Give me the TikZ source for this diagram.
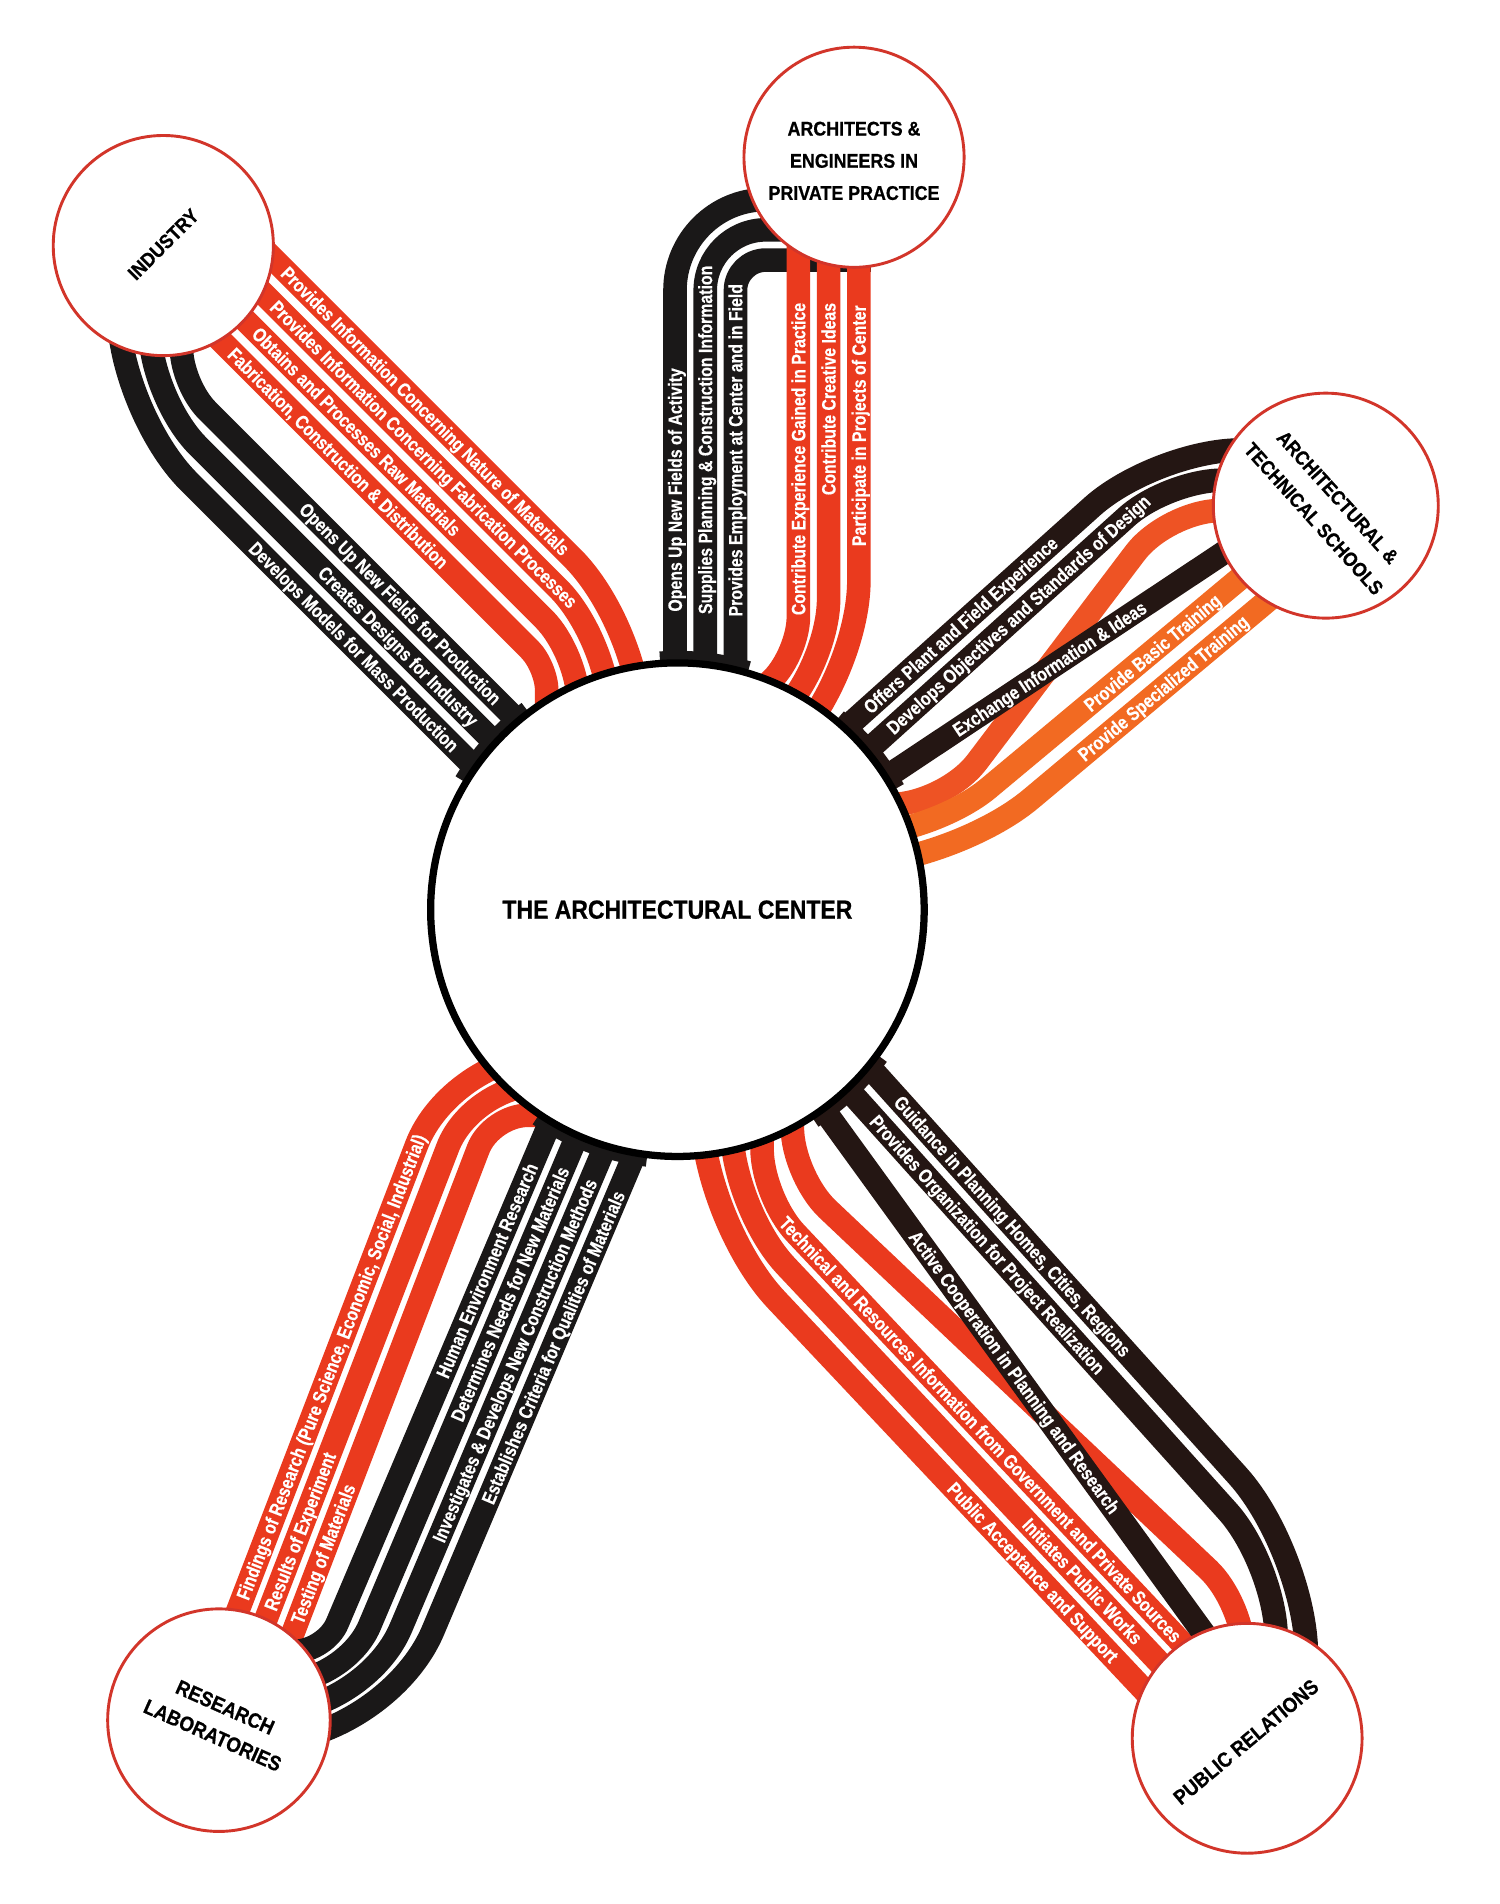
\documentclass[tikz,border=0pt]{standalone}
\usepackage{fontspec}
\newfontfamily\bandfont{Liberation Sans}[FakeStretch=0.82, FakeBold=0.4]
\newfontfamily\headfont{Liberation Sans}[FakeStretch=0.9, FakeBold=0.7]
\newfontfamily\titlefont{Liberation Sans}[FakeStretch=0.88, FakeBold=0.7]
\definecolor{rred}{HTML}{EA3A1E}
\definecolor{rblack}{HTML}{1A1818}
\definecolor{rbrown}{HTML}{241613}
\definecolor{rorange}{HTML}{F26A22}
\definecolor{rorangeA}{HTML}{EE5324}
\definecolor{rline}{HTML}{D2352A}
\tikzset{
  stripe/.style={line width=9.75pt},
  redS/.style={stripe, draw=rred},
  blkS/.style={stripe, draw=rblack},
  brnS/.style={stripe, draw=rbrown},
  orgS/.style={stripe, draw=rorange},
  orgA/.style={stripe, draw=rorangeA},
  mergeS/.style={line width=5pt, draw=rblack},
  lbl/.style={font=\bandfont\bfseries\fontsize{8}{9}\selectfont, text=white, inner sep=0pt, text height=5.7pt, text depth=0pt},
  smallcirc/.style={circle, draw=rline, line width=1.2pt, fill=white, inner sep=0pt},
  headtxt/.style={font=\headfont\bfseries\fontsize{8.2}{13.3}\selectfont, text=black, align=center, inner sep=0pt},
}
\begin{document}
\begin{tikzpicture}[x=0.5pt, y=-0.5pt]
\useasboundingbox (0,0) rectangle (1240,1574);
\fill[white] (0,0) rectangle (1240,1574);
\coordinate (C) at (560,752);

% ---------------- Industry bundle
\draw[redS, rounded corners=40pt] (150,138) -- (530,518) -- (530,650);
\draw[redS, rounded corners=30pt] (150,175) -- (504,529) -- (504,650);
\draw[redS, rounded corners=20pt] (150,212) -- (478,540) -- (478,650);
\draw[redS, rounded corners=10pt] (150,249) -- (452,551) -- (452,650);
\draw[blkS, rounded corners=15pt] (150,220) -- (150,318) -- (480,648);
\draw[blkS, rounded corners=28pt] (124,220) -- (124,329) -- (470,675);
\draw[blkS, rounded corners=41pt] (98,220) -- (98,340) -- (460,702);

% ---------------- Architects bundle
\draw[blkS, rounded corners=37.5pt] (558,650) -- (558,165) -- (720,165);
\draw[blkS, rounded corners=25pt] (583,650) -- (583,190) -- (720,190);
\draw[blkS, rounded corners=12.5pt] (608,650) -- (608,215) -- (720,215);
\draw[redS, rounded corners=15pt] (660,150) -- (660,540) -- (560,640);
\draw[redS, rounded corners=27.5pt] (685,150) -- (685,550) -- (585,650);
\draw[redS, rounded corners=40pt] (710,150) -- (710,560) -- (610,660);

% ---------------- Schools bundle
\draw[orgA, rounded corners=22pt] (1060,422) -- (965,422) -- (781,665) -- (690,665);
\draw[brnS, rounded corners=35pt] (680,619) -- (955,372) -- (1060,372);
\draw[brnS, rounded corners=22.5pt] (690,645) -- (965,397) -- (1060,397);
\draw[brnS] (700,664) -- (1040,438);
\draw[orgS, rounded corners=30pt] (1060,449) -- (771,690) -- (690,690);
\draw[orgS, rounded corners=42.5pt] (1070,478) -- (787,715) -- (690,715);

% ---------------- Research bundle
\draw[redS, rounded corners=40pt] (178,1380) -- (373,872) -- (520,872);
\draw[redS, rounded corners=27.5pt] (200,1390) -- (390,897) -- (520,897);
\draw[redS, rounded corners=15pt] (223,1400) -- (406,922) -- (520,922);
\draw[blkS, rounded corners=12.5pt] (475,880) -- (269,1365) -- (180,1365);
\draw[blkS, rounded corners=25pt] (502,880) -- (286,1390) -- (180,1390);
\draw[blkS, rounded corners=37.5pt] (529,880) -- (302,1415) -- (180,1415);
\draw[blkS, rounded corners=50pt] (556,880) -- (319,1440) -- (180,1440);

% ---------------- Public relations bundle
\draw[redS, rounded corners=20pt] (655,900) -- (655,972) -- (1028,1325) -- (1028,1420);
\draw[redS, rounded corners=20pt] (630,900) -- (630,990) -- (991,1373);
\draw[redS, rounded corners=32.5pt] (605,900) -- (605,999) -- (973,1390);
\draw[redS, rounded corners=45pt] (580,900) -- (580,1009) -- (955,1407);
\draw[brnS, rounded corners=42.5pt] (698,859) -- (1080,1283) -- (1080,1420);
\draw[brnS, rounded corners=30pt] (679,876) -- (1055,1294) -- (1055,1420);
\draw[brnS] (659,887) -- (1029,1397);

% ---------------- black stripes merging at the centre
\draw[mergeS] (C) ++(-149:209) arc[start angle=-149, end angle=-127, radius=209];
\draw[mergeS] (C) ++(-94:209) arc[start angle=-94, end angle=-73.5, radius=209];
\draw[mergeS, draw=rbrown] (C) ++(-50:209) arc[start angle=-50, end angle=-29, radius=209];
\draw[mergeS, draw=rbrown] (C) ++(36:209) arc[start angle=36, end angle=57, radius=209];
\draw[mergeS] (C) ++(97:209) arc[start angle=97, end angle=124, radius=209];

% ---------------- labels: Industry
\node[lbl, anchor=west, rotate=-45] (ir1l) at (235,223) {Provides Information Concerning Nature of Materials};
\node[lbl, anchor=west, rotate=-45] (ir2l) at (226,251) {Provides Information Concerning Fabrication Processes};
\node[lbl, anchor=west, rotate=-45] (ir3l) at (211,273) {Obtains and Processes Raw Materials};
\node[lbl, anchor=west, rotate=-45] (ir4l) at (191,290) {Fabrication, Construction \& Distribution};
\node[lbl, anchor=east, rotate=-45] (ib1l) at (412,580) {Opens Up New Fields for Production};
\node[lbl, anchor=east, rotate=-45] (ib2l) at (393,598) {Creates Designs for Industry};
\node[lbl, anchor=east, rotate=-45] (ib3l) at (377,619) {Develops Models for Mass Production};

% ---------------- labels: Architects
\node[lbl, anchor=west, rotate=90] (ab1l) at (558,506) {Opens Up New Fields of Activity};
\node[lbl, anchor=west, rotate=90] (ab2l) at (583,508) {Supplies Planning \& Construction Information};
\node[lbl, anchor=west, rotate=90] (ab3l) at (608,510) {Provides Employment at Center and in Field};
\node[lbl, anchor=east, rotate=90] (ar1l) at (660,250) {Contribute Experience Gained in Practice};
\node[lbl, anchor=east, rotate=90] (ar2l) at (685,250) {Contribute Creative Ideas};
\node[lbl, anchor=east, rotate=90] (ar3l) at (710,252) {Participate in Projects of Center};

% ---------------- labels: Schools
\node[lbl, anchor=west, rotate=42] (sb1l) at (716,587) {Offers Plant and Field Experience};
\node[lbl, anchor=west, rotate=42] (sb2l) at (735,604) {Develops Objectives and Standards of Design};
\node[lbl, anchor=west, rotate=33.6] (sb3l) at (789,605) {Exchange Information \& Ideas};
\node[lbl, anchor=west, rotate=39.8] (so1l) at (898,585) {Provide Basic Training};
\node[lbl, anchor=west, rotate=39.9] (so2l) at (893,626) {Provide Specialized Training};

% ---------------- labels: Research
\node[lbl, anchor=west, rotate=69] (rr1l) at (200,1322) {Findings of Research (Pure Science, Economic, Social, Industrial)};
\node[lbl, anchor=west, rotate=69] (rr2l) at (223,1331) {Results of Experiment};
\node[lbl, anchor=west, rotate=69] (rr3l) at (245,1342) {Testing of Materials};
\node[lbl, anchor=east, rotate=67] (rb1l) at (440,962) {Human Environment Research};
\node[lbl, anchor=east, rotate=67] (rb2l) at (466,965) {Determines Needs for New Materials};
\node[lbl, anchor=east, rotate=67] (rb3l) at (489,975) {Investigates \& Develops New Construction Methods};
\node[lbl, anchor=east, rotate=67] (rb4l) at (512,985) {Establishes Criteria for Qualities of Materials};

% ---------------- labels: Public relations
\node[lbl, anchor=west, rotate=-48] (pp1l) at (742,908) {Guidance in Planning Homes, Cities, Regions};
\node[lbl, anchor=west, rotate=-48] (pp2l) at (722,924) {Provides Organization for Project Realization};
\node[lbl, anchor=west, rotate=-54] (pp3l) at (755,1019) {Active Cooperation in Planning and Research};
\node[lbl, anchor=west, rotate=-46.7] (pr3l) at (647,1008) {Technical and Resources Information from Government and Private Sources};
\node[lbl, anchor=east, rotate=-46.7] (pr2l) at (942,1357) {Initiates Public Works};
\node[lbl, anchor=east, rotate=-46.7] (pr1l) at (922,1372) {Public Acceptance and Support};

% ---------------- outer circles
\node[smallcirc, minimum size=91pt] (ind) at (135,203) {};
\node[headtxt, rotate=45] (indt) at (135,202) {INDUSTRY};
\node[smallcirc, minimum size=91pt] (arc) at (706,130) {};
\node[headtxt] (arct) at (706,133) {ARCHITECTS \&\\ENGINEERS IN\\PRIVATE PRACTICE};
\node[smallcirc, minimum size=93pt] (sch) at (1096,418) {};
\node[headtxt, rotate=-48] (scht) at (1096,420) {ARCHITECTURAL \&\\TECHNICAL SCHOOLS};
\node[smallcirc, minimum size=92pt] (res) at (181,1422) {};
\node[headtxt, rotate=-24, font=\headfont\bfseries\fontsize{8.6}{12.7}\selectfont] (rest) at (181,1423) {RESEARCH\\LABORATORIES};
\node[smallcirc, minimum size=95pt] (pr) at (1031,1437) {};
\node[headtxt, rotate=40, font=\headfont\bfseries\fontsize{8.6}{12}\selectfont] (prt) at (1030,1440) {PUBLIC RELATIONS};

% ---------------- centre
\node[circle, draw=black, line width=3pt, fill=white, minimum size=204pt, inner sep=0pt] (ctr) at (C) {};
\node[font=\titlefont\bfseries\fontsize{10.8}{12}\selectfont, inner sep=0pt] (ctrt) at (C) {THE ARCHITECTURAL CENTER};
\end{tikzpicture}
\end{document}
